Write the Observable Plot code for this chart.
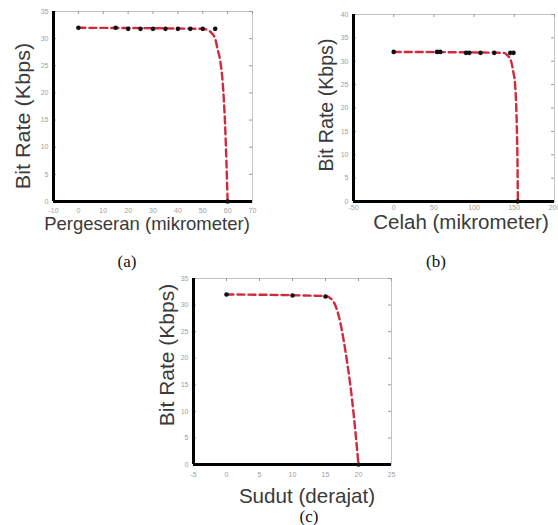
<!DOCTYPE html>
<html>
<head>
<meta charset="utf-8">
<script src="https://cdn.jsdelivr.net/npm/d3@7"></script>
<script src="https://cdn.jsdelivr.net/npm/@observablehq/plot@0.6"></script>
<style>
  html, body { margin: 0; padding: 0; background: #fff; }
  #wrap { position: relative; width: 558px; height: 525px; overflow: hidden; background: #fff; }
  .p { position: absolute; }
  .lab { position: absolute; white-space: nowrap; color: #3a3a3a; line-height: 0.8; font-family: "Liberation Sans", Arial, sans-serif; }
  .cap { position: absolute; white-space: nowrap; color: #111; line-height: 0.9; font-family: "Liberation Serif", "Times New Roman", serif; }
</style>
</head>
<body>
<div id="wrap"></div>
<script>
// ---------- Panel (a): Pergeseran ----------
const aXTicks = [-10, 0, 10, 20, 30, 40, 50, 60, 70];
const aYTicks = [0, 5, 10, 15, 20, 25, 30, 35];
const aPointX = [0, 15, 20, 25, 30, 35, 40, 45, 50, 55, 60];
const aPointY = [32, 32, 31.8, 31.8, 31.8, 31.8, 31.8, 31.8, 31.8, 31.8, 0];
const aCurveX = [0, 50, 52, 54, 55, 56, 57, 58, 59, 60];
const aCurveY = [32, 31.8, 31.6, 30.8, 30, 28, 26, 22, 14, 0];

// ---------- Panel (b): Celah ----------
const bXTicks = [-50, 0, 50, 100, 150, 200];
const bYTicks = [0, 5, 10, 15, 20, 25, 30, 35, 40];
const bPointX = [0, 54, 58, 90, 94, 108, 125, 145, 149, 154];
const bPointY = [32, 32, 32, 31.8, 31.8, 31.8, 31.8, 31.8, 31.8, 0];
const bCurveX = [0, 137, 140, 143, 146, 149, 151, 152, 153, 154, 154.5];
const bCurveY = [32, 31.8, 31.5, 31, 30, 27.5, 25, 22, 17, 8, 0];

// ---------- Panel (c): Sudut ----------
const cXTicks = [-5, 0, 5, 10, 15, 20, 25];
const cYTicks = [0, 5, 10, 15, 20, 25, 30, 35];
const cPointX = [0, 10, 15, 20];
const cPointY = [32, 31.8, 31.6, 0];
const cCurveX = [0, 15, 16, 17, 18, 19, 20];
const cCurveY = [32, 31.7, 31, 28, 21.5, 12.5, 0];

const yLabel = "Bit Rate (Kbps)";
const xLabels = ["Pergeseran (mikrometer)", "Celah (mikrometer)", "Sudut (derajat)"];
const captions = ["(a)", "(b)", "(c)"];

const wrap = document.getElementById("wrap");

function panel(cfg) {
  const pts = cfg.px.map((x, i) => ({x, y: cfg.py[i]}));
  const crv = cfg.cx.map((x, i) => ({x, y: cfg.cy[i]}));
  const xd = [cfg.xTicks[0], cfg.xTicks[cfg.xTicks.length - 1]];
  const yd = [cfg.yTicks[0], cfg.yTicks[cfg.yTicks.length - 1]];
  const fw = cfg.width - cfg.ml - cfg.mr;
  const fh = cfg.height - cfg.mt - cfg.mb;
  const kx = (xd[1] - xd[0]) * 3 / fw;
  const ky = (yd[1] - yd[0]) * 3 / fh;
  const chart = Plot.plot({
    width: cfg.width,
    height: cfg.height,
    marginLeft: cfg.ml, marginRight: cfg.mr, marginTop: cfg.mt, marginBottom: cfg.mb,
    x: {domain: xd},
    y: {domain: yd},
    style: {background: "transparent", fontFamily: "Liberation Sans, Arial, sans-serif", overflow: "visible"},
    marks: [
      Plot.frame({stroke: "#c4c4c4", strokeWidth: 1}),
      Plot.axisX(cfg.xTicks, {tickSize: 0, tickPadding: cfg.xPad, fontSize: 7, fill: "#a0a0a0", label: null, tickFormat: d => String(d)}),
      Plot.axisY(cfg.yTicks, {tickSize: 0, tickPadding: 5, fontSize: 7, fill: "#a0a0a0", label: null, tickFormat: d => String(d)}),
      Plot.ruleX(cfg.xTicks, {x: d => d, y1: yd[1], y2: yd[1] - ky, stroke: "#9a9a9a", strokeWidth: 1}),
      Plot.ruleY(cfg.yTicks, {y: d => d, x1: xd[1], x2: xd[1] - kx, stroke: "#9a9a9a", strokeWidth: 1}),
      Plot.ruleY(cfg.yTicks, {y: d => d, x1: xd[0], x2: xd[0] + kx, stroke: "#9a9a9a", strokeWidth: 1}),
      Plot.ruleX([xd[0]], {stroke: "#000", strokeWidth: 3}),
      Plot.ruleY([yd[0]], {stroke: "#000", strokeWidth: 3}),
      Plot.line(crv, {x: "x", y: "y", stroke: "#cf2a3d", strokeWidth: 2.4, strokeDasharray: "7,4", curve: "monotone-x"}),
      Plot.dot(pts, {x: "x", y: "y", r: 2.3, fill: "#111"})
    ]
  });
  chart.classList.add("p");
  chart.style.left = cfg.left + "px";
  chart.style.top = cfg.top + "px";
  wrap.appendChild(chart);
}

function addXLabel(text, cx, baseline, size) {
  const d = document.createElement("div");
  d.className = "lab";
  d.textContent = text;
  d.style.fontSize = size + "px";
  d.style.left = cx + "px";
  d.style.top = (baseline - 0.7465 * size) + "px";
  d.style.transform = "translateX(-50%)";
  wrap.appendChild(d);
}
function addYLabel(text, cx, cy, size, sx) {
  const d = document.createElement("div");
  d.className = "lab";
  d.textContent = text;
  d.style.fontSize = size + "px";
  d.style.lineHeight = "1";
  d.style.left = cx + "px";
  d.style.top = cy + "px";
  d.style.transform = `translate(-50%,-50%) rotate(-90deg) scaleX(${sx})`;
  wrap.appendChild(d);
}
function addCaption(text, cx, cy, size) {
  const d = document.createElement("div");
  d.className = "cap";
  d.textContent = text;
  d.style.fontSize = size + "px";
  d.style.left = cx + "px";
  d.style.top = cy + "px";
  d.style.transform = "translate(-50%,-50%)";
  wrap.appendChild(d);
}

// (a) frame: x 53..252, y 11..201
panel({left: 0, top: 0, width: 265, height: 225, ml: 53, mr: 13, mt: 11, mb: 24, xPad: 7,
  xTicks: aXTicks, yTicks: aYTicks, px: aPointX, py: aPointY, cx: aCurveX, cy: aCurveY});
// (b) frame: x 353..554, y 14..201
panel({left: 290, top: 0, width: 268, height: 225, ml: 63, mr: 4, mt: 14, mb: 24, xPad: 4,
  xTicks: bXTicks, yTicks: bYTicks, px: bPointX, py: bPointY, cx: bCurveX, cy: bCurveY});
// (c) frame: x 193..391, y 278..464
panel({left: 140, top: 260, width: 265, height: 225, ml: 53, mr: 14, mt: 18, mb: 21, xPad: 8,
  xTicks: cXTicks, yTicks: cYTicks, px: cPointX, py: cPointY, cx: cCurveX, cy: cCurveY});

addXLabel(xLabels[0], 147, 231, 18.5);
addXLabel(xLabels[1], 461, 229.5, 20.5);
addXLabel(xLabels[2], 307, 503, 20.6);

addYLabel(yLabel, 22.5, 116, 20, 1.08);
addYLabel(yLabel, 326, 105, 20, 0.98);
addYLabel(yLabel, 166, 355, 21, 1.0);

addCaption(captions[0], 127, 262, 17);
addCaption(captions[1], 436, 262, 17);
addCaption(captions[2], 309, 517, 17);
</script>
</body>
</html>
